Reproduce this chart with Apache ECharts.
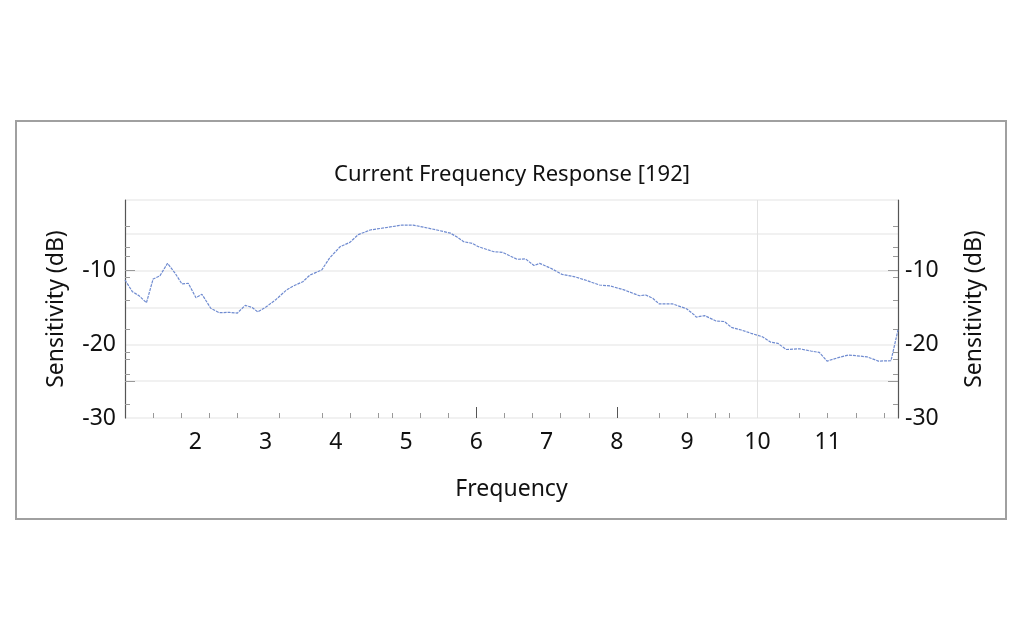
<!DOCTYPE html>
<html>
<head>
<meta charset="utf-8">
<script src="https://cdn.jsdelivr.net/npm/echarts@6/dist/echarts.min.js"></script>
<style>
html,body{margin:0;padding:0;background:#fff;}
#main{width:1024px;height:640px;}
</style>
</head>
<body>
<div id="main"></div>
<script>
const titleText = 'Current Frequency Response [192]';
const xName = 'Frequency';
const yName = 'Sensitivity (dB)';
const freq = [1.0,1.105,1.2,1.305,1.4,1.495,1.605,1.714,1.81,1.9,2.01,2.095,2.22,2.34,2.486,2.6,2.71,2.81,2.89,3.01,3.15,3.3,3.39,3.53,3.63,3.8,3.91,4.06,4.2,4.32,4.49,4.65,4.8,4.94,5.1,5.25,5.44,5.63,5.72,5.82,5.94,6.03,6.2,6.25,6.37,6.58,6.7,6.82,6.9,7.06,7.22,7.39,7.58,7.75,7.91,8.1,8.32,8.41,8.51,8.6,8.79,8.99,9.1,9.13,9.25,9.41,9.53,9.63,9.77,9.91,10.07,10.19,10.29,10.41,10.6,10.76,10.88,10.99,11.15,11.29,11.41,11.56,11.72,11.9,12.0];
const sens = [-11.26,-12.85,-13.4,-14.35,-11.13,-10.72,-9.0,-10.35,-11.8,-11.7,-13.67,-13.2,-15.1,-15.7,-15.66,-15.75,-14.7,-15.0,-15.6,-14.9,-13.9,-12.6,-12.1,-11.5,-10.6,-9.9,-8.3,-6.75,-6.15,-5.1,-4.47,-4.24,-4.02,-3.8,-3.8,-4.1,-4.47,-4.9,-5.4,-6.06,-6.28,-6.74,-7.28,-7.42,-7.5,-8.45,-8.4,-9.3,-9.0,-9.67,-10.5,-10.8,-11.36,-11.94,-12.08,-12.6,-13.4,-13.3,-13.75,-14.5,-14.5,-15.16,-16.0,-16.3,-16.1,-16.83,-16.9,-17.7,-18.05,-18.5,-18.97,-19.7,-19.86,-20.7,-20.6,-20.9,-21.1,-22.27,-21.8,-21.45,-21.55,-21.7,-22.27,-22.23,-18.05];
const xLabels = [2,3,4,5,6,7,8,9,10,11];
const xMinorTicks = [1.4,1.8,2.2,2.6,3.2,3.8,4.2,4.6,4.8,5.2,5.6,6.4,6.8,7.2,7.6,8.6,9.0,9.4,9.6,10.6,11.0,11.4,11.8];
const xMajorTicks = [6,8,10];
const yLabels = [-10,-20,-30];
const yMinorTicks = [-3.9,-6.8,-8,-10.9,-14,-18,-21.1,-22,-24.1,-28.1];
const yMajorTicks = [-10,-25];
const markX = [10];

const font = "'Noto Sans', 'DejaVu Sans', sans-serif";
const chart = echarts.init(document.getElementById('main'));
const data = freq.map((f,i)=>[f,sens[i]]);
const yMin = -30, yMax = -0.4;

function yAx(pos, main, ticks, len) {
  return {
    type:'value', position:pos, min:yMin, max:yMax,
    axisLine:{show:main, lineStyle:{color:'#555', width:1.2}},
    axisTick:{show:true, inside:true, length:len, customValues:ticks, lineStyle:{color:'#999', width:1}},
    axisLabel:{show:main, customValues:yLabels, fontSize:23, color:'#111', fontFamily:font, margin: pos==='left'?9:7},
    splitLine:{show:false},
    name: main ? yName : '', nameLocation:'middle', nameGap: pos==='left'?57:65, nameRotate:90,
    nameTextStyle:{fontSize:23, color:'#111', fontFamily:font}
  };
}

chart.setOption({
  animation:false,
  title:{text:titleText, left:'center', top:159, textStyle:{fontSize:22, fontWeight:'normal', color:'#111', fontFamily:font}},
  grid:{left:125, right:126, top:200, bottom:222},
  graphic:[{type:'rect', shape:{x:16,y:121,width:990,height:398}, style:{fill:'none', stroke:'#a0a0a0', lineWidth:2}, silent:true}],
  xAxis:[
    {type:'value', min:1, max:12, interval:1,
     axisLine:{show:false},
     axisTick:{show:true, inside:true, length:5, customValues:xMinorTicks, lineStyle:{color:'#999'}},
     axisLabel:{customValues:xLabels, fontSize:23, color:'#111', fontFamily:font, margin:13},
     splitLine:{show:false},
     name:xName, nameLocation:'middle', nameGap:60, nameTextStyle:{fontSize:23, color:'#111', fontFamily:font}},
    {type:'value', min:1, max:12, position:'bottom',
     axisLine:{show:false},
     axisTick:{show:true, inside:true, length:11, customValues:xMajorTicks, lineStyle:{color:'#555'}},
     axisLabel:{show:false}, splitLine:{show:false}}
  ],
  yAxis:[
    yAx('left', true, yMinorTicks, 5),
    yAx('right', true, yMinorTicks, 5),
    yAx('left', false, yMajorTicks, 10),
    yAx('right', false, yMajorTicks, 10),
    {type:'value', min:yMin, max:yMax, position:'left', show:true,
     axisLine:{show:false}, axisTick:{show:false}, axisLabel:{show:false},
     splitLine:{show:true, lineStyle:{color:'#ececec', width:1.5}}, interval:5}
  ],
  series:[{
    type:'line', data:data, xAxisIndex:0, yAxisIndex:0,
    showSymbol:false, symbol:'none',
    lineStyle:{color:'#6f8bd0', width:1.2, type:[3,1]},
    markLine:{silent:true, symbol:'none', label:{show:false},
      lineStyle:{color:'#e2e2e2', width:1, type:'solid'},
      data: markX.map(v=>({xAxis:v}))}
  }]
});
</script>
</body>
</html>
